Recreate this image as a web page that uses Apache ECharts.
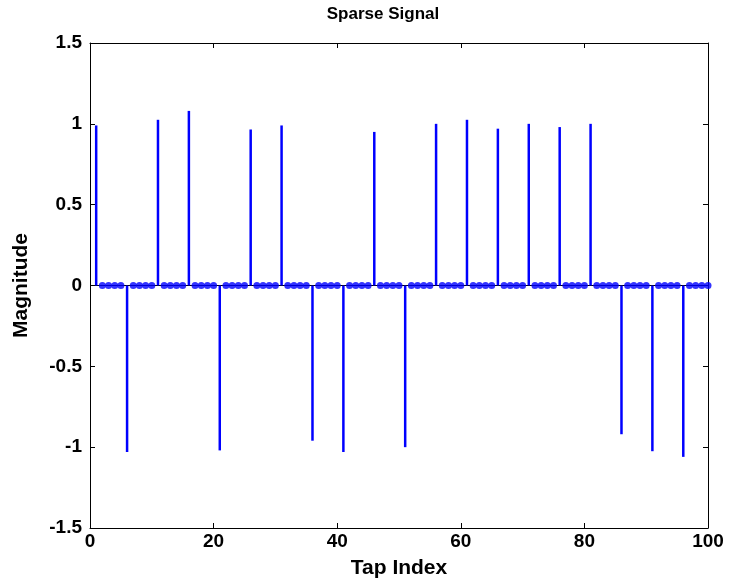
<!DOCTYPE html>
<html>
<head>
<meta charset="utf-8">
<script src="https://cdn.jsdelivr.net/npm/echarts@6/dist/echarts.min.js"></script>
<style>
  html, body { margin: 0; padding: 0; background: #fff; }
  #chart { width: 729px; height: 587px; }
</style>
</head>
<body>
<div id="chart"></div>
<script>
// tap positions (1..100) and the non-zero taps
var taps = [];
for (var i = 1; i <= 100; i++) taps.push(i);
var spikeIdx = [1, 6, 11, 16, 21, 26, 31, 36, 41, 46, 51, 56, 61, 66, 71, 76, 81, 86, 91, 96];
var spikeVal = [0.99, -1.03, 1.025, 1.08, -1.02, 0.965, 0.99, -0.96, -1.03, 0.95,
                -1.0, 1.0, 1.025, 0.97, 1.0, 0.98, 1.0, -0.92, -1.025, -1.06];
var xTicks = [0, 20, 40, 60, 80, 100];
var yTicks = [-1.5, -1, -0.5, 0, 0.5, 1, 1.5];

var stems = spikeIdx.map(function (x, k) { return [x, spikeVal[k]]; });
var zeros = taps.filter(function (x) { return spikeIdx.indexOf(x) < 0; })
                .map(function (x) { return [x, 0]; });

var font = 'Liberation Sans, Arial, sans-serif';
var chart = echarts.init(document.getElementById('chart'));

var axisCommon = {
  axisLine: { show: true, onZero: false, lineStyle: { color: '#000', width: 1 } },
  axisTick: { show: true, inside: true, length: 5, lineStyle: { color: '#000' } },
  splitLine: { show: false }
};

chart.setOption({
  animation: false,
  title: {
    text: 'Sparse Signal',
    left: 378, top: 1, textAlign: 'center',
    textStyle: { fontFamily: font, fontWeight: 'bold', fontSize: 17, color: '#000' }
  },
  grid: { left: 90, right: 21, top: 43, bottom: 59 },
  xAxis: [
    Object.assign({
      type: 'value', min: 0, max: 100, interval: 20, position: 'bottom',
      name: 'Tap Index', nameLocation: 'middle', nameGap: 30,
      nameTextStyle: { fontFamily: font, fontWeight: 'bold', fontSize: 21, color: '#000', verticalAlign: 'top' },
      axisLabel: { fontFamily: font, fontWeight: 'bold', fontSize: 19, color: '#000', margin: 4,
        customValues: xTicks }
    }, axisCommon),
    Object.assign({
      type: 'value', min: 0, max: 100, interval: 20, position: 'top',
      axisLabel: { show: false }
    }, axisCommon)
  ],
  yAxis: [
    Object.assign({
      type: 'value', min: -1.5, max: 1.5, interval: 0.5, position: 'left',
      name: 'Magnitude', nameLocation: 'middle', nameGap: 58,
      nameTextStyle: { fontFamily: font, fontWeight: 'bold', fontSize: 21, color: '#000' },
      axisLabel: { fontFamily: font, fontWeight: 'bold', fontSize: 19, color: '#000', margin: 8,
        customValues: yTicks }
    }, axisCommon),
    Object.assign({
      type: 'value', min: -1.5, max: 1.5, interval: 0.5, position: 'right',
      axisLabel: { show: false }
    }, axisCommon)
  ],
  series: [
    {
      // baseline
      type: 'line',
      data: [[0, 0], [100, 0]],
      symbol: 'none',
      lineStyle: { color: '#000', width: 1 },
      z: 1
    },
    {
      type: 'custom',
      data: stems,
      renderItem: function (params, api) {
        var p0 = api.coord([api.value(0), 0]);
        var p1 = api.coord([api.value(0), api.value(1)]);
        return {
          type: 'line',
          shape: { x1: p0[0], y1: p0[1], x2: p1[0], y2: p1[1] },
          style: { stroke: '#0000ff', lineWidth: 2.5 }
        };
      },
      z: 2
    },
    {
      type: 'scatter',
      data: zeros,
      symbol: 'circle',
      symbolSize: 7,
      itemStyle: { color: '#0000ff' },
      z: 3
    }
  ]
});
</script>
</body>
</html>
